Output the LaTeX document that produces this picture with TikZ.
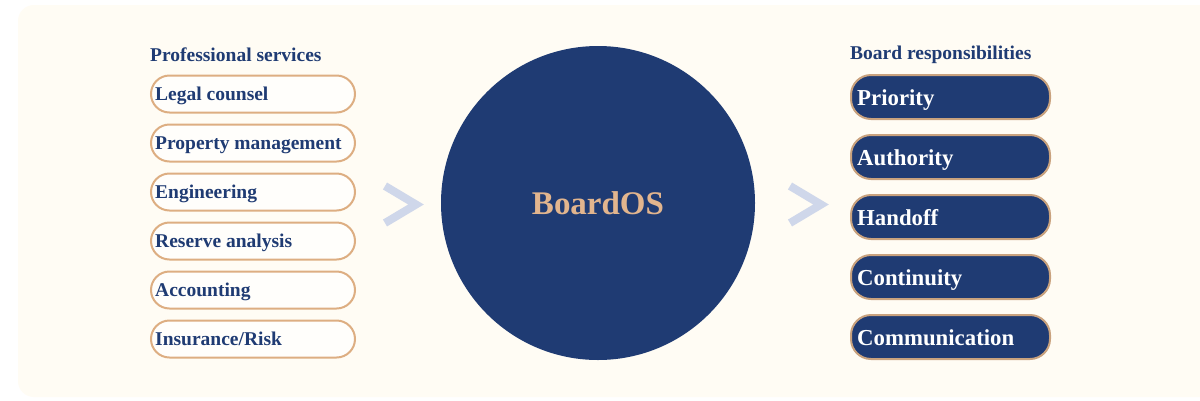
\documentclass[tikz,border=0pt]{standalone}
\usepackage{fontspec}
\setmainfont{Liberation Serif}
\definecolor{navy}{HTML}{1F3B73}
\definecolor{tan}{HTML}{DDAE82}
\definecolor{tandark}{HTML}{C9A27E}
\definecolor{cream}{HTML}{FFFCF4}
\definecolor{chev}{HTML}{CFD7EA}
\definecolor{gold}{HTML}{E2B58E}
\tikzset{
  lpill/.style={draw=tan, line width=2pt, fill=white!60!cream, rounded corners=18.5pt,
    minimum width=204pt, minimum height=37pt, anchor=west, inner sep=0pt},
  ltext/.style={anchor=base west, inner sep=0pt, text=navy, font=\bfseries\fontsize{19.5}{21}\selectfont},
  rpill/.style={draw=tandark, line width=2pt, fill=navy, rounded corners=20pt,
    minimum width=199pt, minimum height=44pt, anchor=west, inner sep=0pt},
  rtext/.style={anchor=base west, inner sep=0pt, text=white, font=\bfseries\fontsize{22.8}{25}\selectfont},
  title/.style={anchor=west, inner sep=0pt, text=navy, font=\bfseries\fontsize{19.5}{21}\selectfont},
  chevron/.style={draw=chev, line width=8pt, line join=miter, line cap=butt}
}
\begin{document}
\begin{tikzpicture}[x=1pt,y=-1pt]
\useasboundingbox (0,0) rectangle (1200,400);
\fill[white] (0,0) rectangle (1200,400);
\fill[cream, rounded corners=16pt] (18,5) rectangle (1230,397);
% left column
\node[title] (lt) at (150,55) {Professional services};
\foreach \t [count=\i] in {Legal counsel,Property management,Engineering,Reserve analysis,Accounting,Insurance/Risk}{
  \node[lpill] (l\i) at (150,{94+49*(\i-1)}) {};
  \node[ltext] (lt\i) at ([xshift=5pt,yshift=-6.5pt]l\i.west) {\t};
}
% circle
\node[circle, fill=navy, minimum size=314pt, inner sep=0pt] (c) at (598,203) {};
\node[text=gold, font=\bfseries\fontsize{33}{36}\selectfont] (ct) at (c.center) {BoardOS};
% chevrons
\coordinate (a1) at (385,186);
\coordinate (a2) at (416,204.5);
\coordinate (a3) at (385,223);
\draw[chevron] (a1) -- (a2) -- (a3);
\coordinate (b1) at (790,186);
\coordinate (b2) at (821,204.5);
\coordinate (b3) at (790,223);
\draw[chevron] (b1) -- (b2) -- (b3);
% right column
\node[title] (rt) at (850,55) {Board responsibilities};
\foreach \t [count=\i] in {Priority,Authority,Handoff,Continuity,Communication}{
  \node[rpill] (r\i) at (850,{97+60*(\i-1)}) {};
  \node[rtext] (rt\i) at ([xshift=7pt,yshift=-8.5pt]r\i.west) {\t};
}
\end{tikzpicture}
\end{document}
